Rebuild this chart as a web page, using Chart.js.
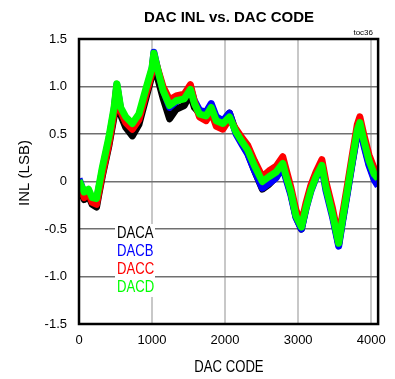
<!DOCTYPE html>
<html>
<head>
<meta charset="utf-8">
<script src="https://cdn.jsdelivr.net/npm/chart.js@4"></script>
<style>
    body { margin: 0; background: #fff; }
    canvas { display: block; }
</style>
</head>
<body>
<canvas id="myChart" width="395" height="379"></canvas>
<script>
// codigos DAC donde se leyeron los valores
const codigos = [0, 70, 130, 180, 240, 270, 320, 410, 480, 518, 570, 640, 730, 820, 910, 1000, 1025, 1080, 1150, 1240,
    1330, 1440, 1525, 1580, 1650, 1740, 1810, 1880, 1970, 2060, 2150, 2240, 2310, 2400, 2510, 2600, 2700, 2790, 2830, 2900,
    2970, 3045, 3110, 3175, 3245, 3325, 3380, 3470, 3555, 3605, 3675, 3740, 3810, 3845, 3900, 3970, 4040, 4095];

const dacA = [-0.04, -0.19, -0.15, -0.24, -0.27, -0.14, 0.06, 0.38, 0.68, 0.97, 0.70, 0.57, 0.48, 0.60, 0.86, 1.12, 1.27, 1.08, 0.88, 0.66,
    0.76, 0.80, 0.92, 0.78, 0.72, 0.70, 0.80, 0.66, 0.63, 0.72, 0.52, 0.40, 0.30, 0.12, -0.08, -0.03, 0.05, 0.16, 0.06, -0.12,
    -0.37, -0.50, -0.26, -0.06, 0.08, 0.19, -0.05, -0.34, -0.66, -0.42, -0.10, 0.20, 0.52, 0.60, 0.40, 0.19, 0.04, 0.00];

const dacB = [0.03, -0.12, -0.10, -0.19, -0.20, -0.08, 0.12, 0.44, 0.75, 1.02, 0.76, 0.64, 0.57, 0.68, 0.93, 1.18, 1.36, 1.17, 0.97, 0.78,
    0.84, 0.90, 0.99, 0.85, 0.75, 0.73, 0.82, 0.68, 0.64, 0.72, 0.50, 0.38, 0.29, 0.12, -0.07, -0.02, 0.04, 0.15, 0.04, -0.14,
    -0.38, -0.50, -0.28, -0.10, 0.04, 0.15, -0.09, -0.37, -0.68, -0.44, -0.12, 0.19, 0.50, 0.59, 0.38, 0.17, 0.02, -0.05];

const dacC = [-0.02, -0.17, -0.12, -0.22, -0.24, -0.12, 0.08, 0.40, 0.72, 1.00, 0.74, 0.62, 0.55, 0.65, 0.90, 1.15, 1.32, 1.18, 1.00, 0.86,
    0.90, 0.92, 1.02, 0.84, 0.68, 0.64, 0.73, 0.58, 0.55, 0.66, 0.55, 0.45, 0.38, 0.22, 0.05, 0.11, 0.16, 0.26, 0.14, -0.06,
    -0.30, -0.44, -0.22, -0.04, 0.10, 0.23, 0.00, -0.28, -0.60, -0.36, -0.04, 0.27, 0.60, 0.68, 0.49, 0.28, 0.14, 0.12];

const dacD = [0.01, -0.11, -0.08, -0.17, -0.18, -0.06, 0.15, 0.47, 0.78, 1.03, 0.78, 0.68, 0.61, 0.71, 0.96, 1.20, 1.35, 1.17, 0.96, 0.80,
    0.85, 0.87, 0.97, 0.82, 0.71, 0.69, 0.78, 0.64, 0.61, 0.68, 0.52, 0.41, 0.33, 0.17, 0.00, 0.05, 0.10, 0.19, 0.07, -0.11,
    -0.36, -0.48, -0.27, -0.09, 0.05, 0.17, -0.06, -0.34, -0.65, -0.41, -0.09, 0.22, 0.54, 0.62, 0.43, 0.22, 0.08, 0.03];

const etiquetasY = [-1.5, -1.0, -0.5, 0, 0.5, 1.0, 1.5];
const etiquetasX = [0, 1000, 2000, 3000, 4000];

const series = [
    { label: "DACA", valores: dacA, color: "#000000" },
    { label: "DACB", valores: dacB, color: "#0000ff" },
    { label: "DACC", valores: dacC, color: "#ff0000" },
    { label: "DACD", valores: dacD, color: "#00ff00" },
];

const fuente = "'Liberation Sans', Arial, sans-serif";

// texto estrecho (escala horizontal)
function textoEstrecho(c, texto, x, y, escala) {
    c.save();
    c.translate(x, y);
    c.scale(escala, 1);
    c.fillText(texto, 0, 0);
    c.restore();
}

// textos, leyenda y marco
const extras = {
    id: "extras",
    afterDraw(chart) {
        const c = chart.ctx;
        const a = chart.chartArea;
        c.save();

        c.fillStyle = "#000";
        c.textAlign = "center";
        c.textBaseline = "middle";
        c.font = "bold 15px " + fuente;
        c.fillText("DAC INL vs. DAC CODE", 229, 18);

        c.font = "8px " + fuente;
        c.textAlign = "right";
        c.textBaseline = "alphabetic";
        c.fillText("toc36", 373, 35);

        c.textAlign = "center";
        c.textBaseline = "middle";
        c.font = "16px " + fuente;
        textoEstrecho(c, "DAC CODE", 229, 368, 0.82);

        c.save();
        c.translate(25, 173);
        c.rotate(-Math.PI / 2);
        c.font = "15px " + fuente;
        c.fillText("INL (LSB)", 0, 0);
        c.restore();

        // leyenda
        c.fillStyle = "#fff";
        c.fillRect(115, 224, 40, 73);
        c.font = "16px " + fuente;
        c.textAlign = "left";
        series.forEach((s, i) => {
            c.fillStyle = s.color;
            textoEstrecho(c, s.label, 117, 234 + i * 17.8, 0.82);
        });

        c.strokeStyle = "#000";
        c.lineWidth = 2.5;
        c.strokeRect(a.left, a.top, a.right - a.left, a.bottom - a.top);
        c.restore();
    }
};

const ctx = document.getElementById('myChart').getContext('2d');

new Chart(ctx, {
    type: "line",
    data: {
        datasets: series.map((s, i) => ({
            label: s.label,
            data: codigos.map((x, j) => ({ x: x, y: s.valores[j] })),
            borderColor: s.color,
            backgroundColor: s.color,
            borderWidth: 7,
            borderJoinStyle: "round",
            pointRadius: 0,
            tension: 0,
            order: series.length - i,
        })),
    },
    options: {
        responsive: false,
        animation: false,
        devicePixelRatio: 1,
        layout: {
            padding: { top: 39, right: 16, left: 0, bottom: 0 },
        },
        plugins: {
            legend: { display: false },
            title: { display: false },
            tooltip: { enabled: false },
        },
        scales: {
            x: {
                type: "linear",
                min: 0,
                max: 4095,
                afterFit: (scale) => { scale.height = 55; },
                afterBuildTicks: (scale) => {
                    scale.ticks = etiquetasX.map(v => ({ value: v }));
                },
                grid: {
                    color: "#c8c8c8",
                    lineWidth: 2,
                    drawTicks: false,
                },
                border: { display: false },
                ticks: {
                    padding: 9,
                    color: "#000",
                    maxRotation: 0,
                    font: { size: 13, family: fuente },
                    callback: (v) => String(v),
                },
            },
            y: {
                min: -1.5,
                max: 1.5,
                afterFit: (scale) => { scale.width = 79; },
                afterBuildTicks: (scale) => {
                    scale.ticks = etiquetasY.map(v => ({ value: v }));
                },
                grid: {
                    color: "#707070",
                    lineWidth: 1.5,
                    drawTicks: false,
                },
                border: { display: false },
                ticks: {
                    padding: 12,
                    color: "#000",
                    font: { size: 13, family: fuente },
                    callback: (v) => v === 0 ? "0" : v.toFixed(1),
                },
            },
        },
    },
    plugins: [extras],
});
</script>
</body>
</html>
